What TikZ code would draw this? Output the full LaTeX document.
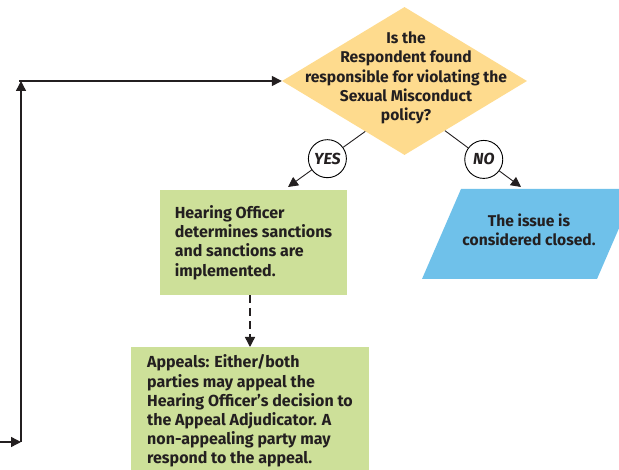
\documentclass[tikz,border=0pt]{standalone}
\usepackage{fontspec}
\setmainfont{Fira Sans}
\usetikzlibrary{shapes.geometric,arrows.meta,calc}
\definecolor{diamfill}{RGB}{254,219,142}
\definecolor{greenfill}{RGB}{205,224,153}
\definecolor{bluefill}{RGB}{111,193,234}
\definecolor{ink}{RGB}{35,31,32}
\tikzset{
  txt/.style={text=ink, font=\bfseries\fontsize{15.6}{19.4}\selectfont, align=center, inner sep=0pt},
  diam/.style={diamond, fill=diamfill, minimum width=245pt, minimum height=148pt, inner sep=0pt},
  greenbox/.style={rectangle, fill=greenfill, text=ink, font=\bfseries\fontsize{16}{19.2}\selectfont, align=left, inner sep=0pt},
  circ/.style={circle, draw=black, line width=0.9pt, fill=white, minimum size=38pt, inner sep=0pt, text=ink, font=\bfseries\itshape\fontsize{16}{17}\selectfont},
  conn/.style={line width=0.9pt, draw=ink},
  arr/.style={line width=0.9pt, draw=ink, -{Triangle[length=10pt,width=10pt]}},
  loop/.style={line width=1.4pt, draw=ink, -{Triangle[length=10pt,width=10pt]}},
  dasharr/.style={line width=1.4pt, draw=ink, dash pattern=on 8pt off 5pt, -{Triangle[length=10pt,width=10pt]}}
}
\begin{document}
\begin{tikzpicture}[x=1pt,y=-1pt]
\useasboundingbox (0,0) rectangle (619,470);
% decision diamond
\node[diam] (q) at (404.5,81) {};
\node[txt] (qt) at (406,78) {Is the\\Respondent found\\responsible for violating the\\Sexual Misconduct\\policy?};
% green box 1
\node[greenbox, minimum width=187pt, minimum height=105pt] (b1) at (253.5,242.5) {Hearing Officer\\determines sanctions\\and sanctions are\\implemented.};
% green box 2
\node[greenbox, minimum width=238pt, minimum height=128pt, anchor=north] (b2) at (250,347) {Appeals: Either/both\\parties may appeal the\\Hearing Officer's decision to\\the Appeal Adjudicator. A\\non-appealing party may\\respond to the appeal.};
% blue parallelogram
\coordinate (p1) at (422,279);
\coordinate (p2) at (461,189);
\coordinate (p3) at (636,189);
\coordinate (p4) at (597,279);
\fill[bluefill] (p1) -- (p2) -- (p3) -- (p4) -- cycle;
\node[txt] (closed) at (529,230) {The issue is\\considered closed.};
% yes / no branches
\coordinate (ys) at ($(q.west)!0.68!(q.south)$);
\coordinate (yt) at (288,187);
\coordinate (ns) at ($(q.south)!0.33!(q.east)$);
\coordinate (nt) at (521,187);
\node[circ] (yes) at ($(ys)!0.49!(yt)$) {YES};
\node[circ] (no) at ($(ns)!0.51!(nt)$) {NO};
\draw[conn] (ys) -- (yes);
\draw[arr] (yes) -- (yt);
\draw[conn] (ns) -- (no);
\draw[arr] (no) -- (nt);
% dashed
\draw[dasharr] (b1.south -| 250,0) -- (b2.north);
% loop back
\coordinate (l0) at (0,442);
\coordinate (l1) at (21,442);
\coordinate (l2) at (21,81);
\coordinate (l3) at (19,81);
\draw[loop] (l0) -- (l1);
\draw[loop] (l1) -- (l2);
\draw[loop] (l3) -- (q.west);
\end{tikzpicture}
\end{document}
